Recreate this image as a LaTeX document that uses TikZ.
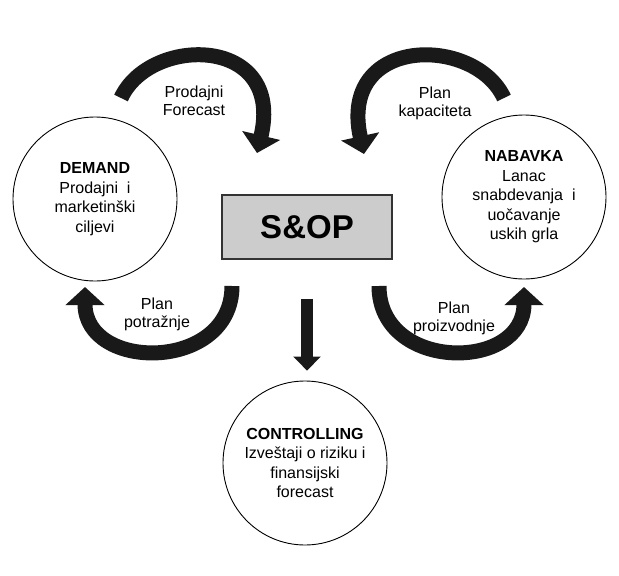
\documentclass[tikz,border=0pt]{standalone}
\usepackage{fontspec}
\setmainfont{Liberation Sans}
\usetikzlibrary{arrows.meta, positioning}
\tikzset{
    stage/.style = {
      circle, draw=black, line width=0.9pt, minimum size=164pt, inner sep=0,
      align=center, font=\fontsize{16}{19.5}\selectfont,
    },
    hub/.style = {
      draw=black!80!white, line width=1.5pt, fill=black!20!white,
      minimum width=170pt, minimum height=64pt, inner sep=0,
      font=\bfseries\fontsize{33}{36}\selectfont,
    },
    flow label/.style = {align=center, inner sep=0, font=\fontsize{16}{18}\selectfont},
    feedback/.style = {line width=15pt, black!90!white,
      arrows={-Triangle[width=38pt, length=18pt]}},
    handoff/.style = {line width=12.5pt, black!90!white,
      arrows={-Triangle[width=27pt, length=14pt]}},
}

\begin{document}
\begin{tikzpicture}[x=1pt, y=-1pt]
    \useasboundingbox (0,0) rectangle (619,576);

    %% The planning hub and the three partners round it
    \node [hub] (sop) at (307,227) {S\&OP};
    \node [stage] (demand) at (95,199)
          {\textbf{DEMAND}\\Prodajni\ \ i\\marketinški\\ciljevi};
    \node [stage] (nabavka) at (524,197)
          {\textbf{NABAVKA}\\Lanac\\snabdevanja\ \ i\\uočavanje\\uskih grla};
    \node [stage] (controlling) at (305,463)
          {\textbf{CONTROLLING}\\Izveštaji o riziku i\\finansijski\\forecast};

    %% Labels of the four loops
    \node [flow label] (forecast) at (194,101) {Prodajni\\Forecast};
    \node [flow label] (kapacitet) at (435,103) {Plan\\kapaciteta};
    \node [flow label] (potraznja) at (157,314) {Plan\\potražnje};
    \node [flow label] (proizvodnja) at (454,318) {Plan\\proizvodnje};

    %% Ends of the curved arrows
    \coordinate (forecast tail) at (121,98);
    \coordinate (forecast tip) at (257,153);
    \coordinate (kapacitet tail) at (504,98);
    \coordinate (kapacitet tip) at (364,154);
    \coordinate (potraznja tail) at (232,286);
    \coordinate (potraznja tip) at (85,287);
    \coordinate (proizvodnja tail) at (379,286);
    \coordinate (proizvodnja tip) at (524,287);

    \draw [feedback] (forecast tail) .. controls (150,35) and (285,35) .. (forecast tip);
    \draw [feedback] (kapacitet tail) .. controls (475,35) and (338,35) .. (kapacitet tip);
    \draw [feedback] (potraznja tail) .. controls (232,372) and (85,372) .. (potraznja tip);
    \draw [feedback] (proizvodnja tail) .. controls (379,372) and (524,372) .. (proizvodnja tip);

    %% Hub hands its results down to controlling
    \draw [handoff, shorten <=39pt, shorten >=10pt]
      (sop.south) -- (sop.south |- controlling.north);
\end{tikzpicture}
\end{document}
